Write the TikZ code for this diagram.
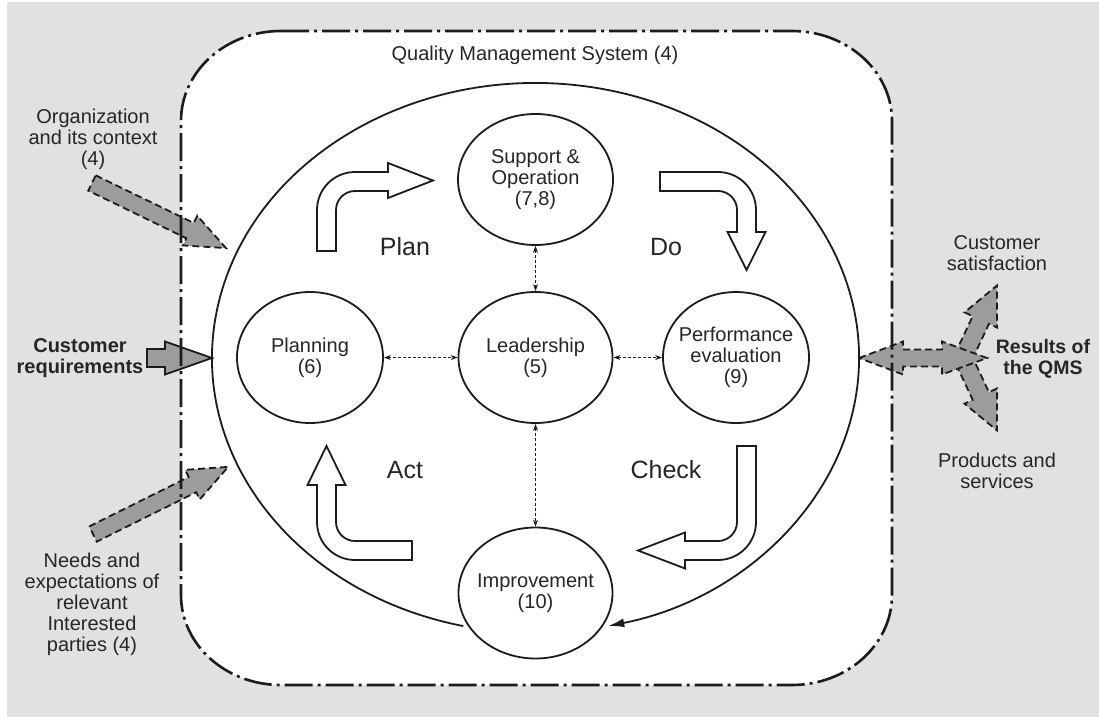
\documentclass[tikz,border=0pt]{standalone}
\usepackage{fontspec}
\setmainfont{Liberation Sans}
\usetikzlibrary{arrows.meta,shapes.geometric}
\definecolor{bg}{HTML}{E1E1E1}
\definecolor{garrfill}{HTML}{9C9C9C}
\definecolor{ink}{HTML}{1C1C1C}
\definecolor{txt}{HTML}{262626}
\newcommand{\garrow}[8]{%
  \draw[#1, shift={(#2,#3)}, rotate=#4] (0,#6) -- ({#5-#8},#6) -- ({#5-#8},#7) -- (#5,0)
    -- ({#5-#8},-#7) -- ({#5-#8},-#6) -- (0,-#6) -- cycle;}
\newcommand{\qmspath}{(281,-31) -- (792,-31) arc[start angle=90, end angle=0, x radius=100pt, y radius=90pt]
  -- (892,-595) arc[start angle=0, end angle=-90, x radius=100pt, y radius=90pt]
  -- (281,-685) arc[start angle=-90, end angle=-180, x radius=100pt, y radius=90pt]
  -- (181,-121) arc[start angle=180, end angle=90, x radius=100pt, y radius=90pt] -- cycle}
\begin{document}
\begin{tikzpicture}[x=1pt,y=1pt,
  font=\fontsize{20}{21}\selectfont, text=txt,
  circ/.style={ellipse, draw=ink, line width=1.8pt, fill=white, inner sep=-40pt,
     minimum height=131pt, align=center},
  garr/.style={fill=garrfill, draw=ink, line width=1.8pt, dash pattern=on 7pt off 4pt},
  garrsolid/.style={fill=garrfill, draw=ink, line width=1.8pt},
  barrow/.style={fill=white, draw=ink, line width=1.8pt, line join=miter},
  dconn/.style={draw=ink, line width=0.9pt, dash pattern=on 3pt off 2pt,
     {Stealth[length=7pt,width=5pt]}-{Stealth[length=7pt,width=5pt]}},
  qmsline/.style={draw=ink, line width=2.6pt, dash pattern=on 28pt off 5pt on 3pt off 5pt},
  lbl/.style={align=center, inner sep=0pt},
  pdca/.style={font=\fontsize{25}{27}\selectfont, inner sep=0pt}]
\useasboundingbox (0,0) rectangle (1099,-717);
\fill[white] (0,0) rectangle (1099,-717);
\fill[bg] (7,-2) rectangle (1099,-717);
% QMS area
\fill[white] \qmspath;
% grey input / output arrows
\garrow{garr}{92}{-183}{-25.9}{149}{8.5}{16.5}{40}
\garrow{garr}{93}{-534}{26.4}{151}{8.5}{16.5}{40}
\garrow{garrsolid}{147}{-358}{0}{65}{9}{16.5}{47}
\garrow{garr}{963}{-358}{64.9}{80}{9}{18}{38}
\garrow{garr}{963}{-358}{-64.9}{80}{9}{18}{38}
\draw[garr] (859,-358) -- (903,-341.5) -- (903,-349.5) -- (942,-349.5) -- (942,-341.5)
  -- (987,-358) -- (942,-374.5) -- (942,-366.5) -- (903,-366.5) -- (903,-374.5) -- cycle;
% QMS border
\draw[qmsline] \qmspath;
\node[lbl] (qms) at (535,-55) {Quality Management System (4)};
% big open ellipse with arrow
\draw[draw=ink, line width=1.8pt, -{Latex[length=16pt,width=9pt]}]
  ([shift={(535.5,-358)}]257.1:323.5pt and 275pt)
  arc[start angle=257.1, end angle=-77, x radius=323.5pt, y radius=275pt];
% circles
\node[circ, minimum width=155pt] (sup) at (535.5,-179.5) {Support \&\\Operation\\(7,8)};
\node[circ, minimum width=154pt] (lead) at (535.5,-357.5) {Leadership\\(5)};
\node[circ, minimum width=146pt] (plan) at (310,-357.5) {Planning\\(6)};
\node[circ, minimum width=146pt] (perf) at (736,-357.5) {Performance\\evaluation\\(9)};
\node[circ, minimum width=154pt] (impr) at (535.5,-593) {Improvement\\(10)};
\draw[dconn] (sup) -- (lead);
\draw[dconn] (plan) -- (lead);
\draw[dconn] (lead) -- (perf);
\draw[dconn] (lead) -- (impr);
% PDCA block arrows
\draw[barrow] (317,-251) -- (317,-210) arc[start angle=180, end angle=90, radius=38pt]
  -- (388,-172) -- (388,-163) -- (433,-180.5) -- (388,-198) -- (388,-191) -- (355,-191)
  arc[start angle=90, end angle=180, radius=19pt] -- (336,-251) -- cycle;
\draw[barrow] (660,-172) -- (718,-172) arc[start angle=90, end angle=0, radius=38pt]
  -- (756,-232) -- (765.5,-232) -- (746.5,-270) -- (727.5,-232) -- (737,-232) -- (737,-210)
  arc[start angle=0, end angle=90, radius=19pt] -- (660,-191) -- cycle;
\draw[barrow] (737,-446) -- (756,-446) -- (756,-522) arc[start angle=0, end angle=-90, radius=38pt]
  -- (685,-560) -- (685,-568.5) -- (638,-550.5) -- (685,-532.5) -- (685,-541) -- (718,-541)
  arc[start angle=-90, end angle=0, radius=19pt] -- cycle;
\draw[barrow] (412,-541) -- (412,-560) -- (355,-560) arc[start angle=-90, end angle=-180, radius=38pt]
  -- (317,-485) -- (307.5,-485) -- (326.5,-446) -- (345.5,-485) -- (336,-485) -- (336,-522)
  arc[start angle=180, end angle=270, radius=19pt] -- cycle;
\node[pdca] (tplan) at (405,-247) {Plan};
\node[pdca] (tdo) at (666,-247) {Do};
\node[pdca] (tact) at (405,-470) {Act};
\node[pdca] (tcheck) at (666,-470) {Check};
% side labels
\node[lbl] (org) at (93,-139) {Organization\\and its context\\(4)};
\node[lbl, font=\fontsize{20}{21}\selectfont\bfseries] (creq) at (80,-358) {Customer\\requirements};
\node[lbl] (needs) at (92,-604) {Needs and\\expectations of\\relevant\\Interested\\parties (4)};
\node[lbl] (csat) at (997,-253.5) {Customer\\satisfaction};
\node[lbl, font=\fontsize{19.5}{21}\selectfont\bfseries] (res) at (1043,-358.5) {Results of\\the QMS};
\node[lbl] (prod) at (997,-470.5) {Products and\\services};
\end{tikzpicture}
\end{document}
